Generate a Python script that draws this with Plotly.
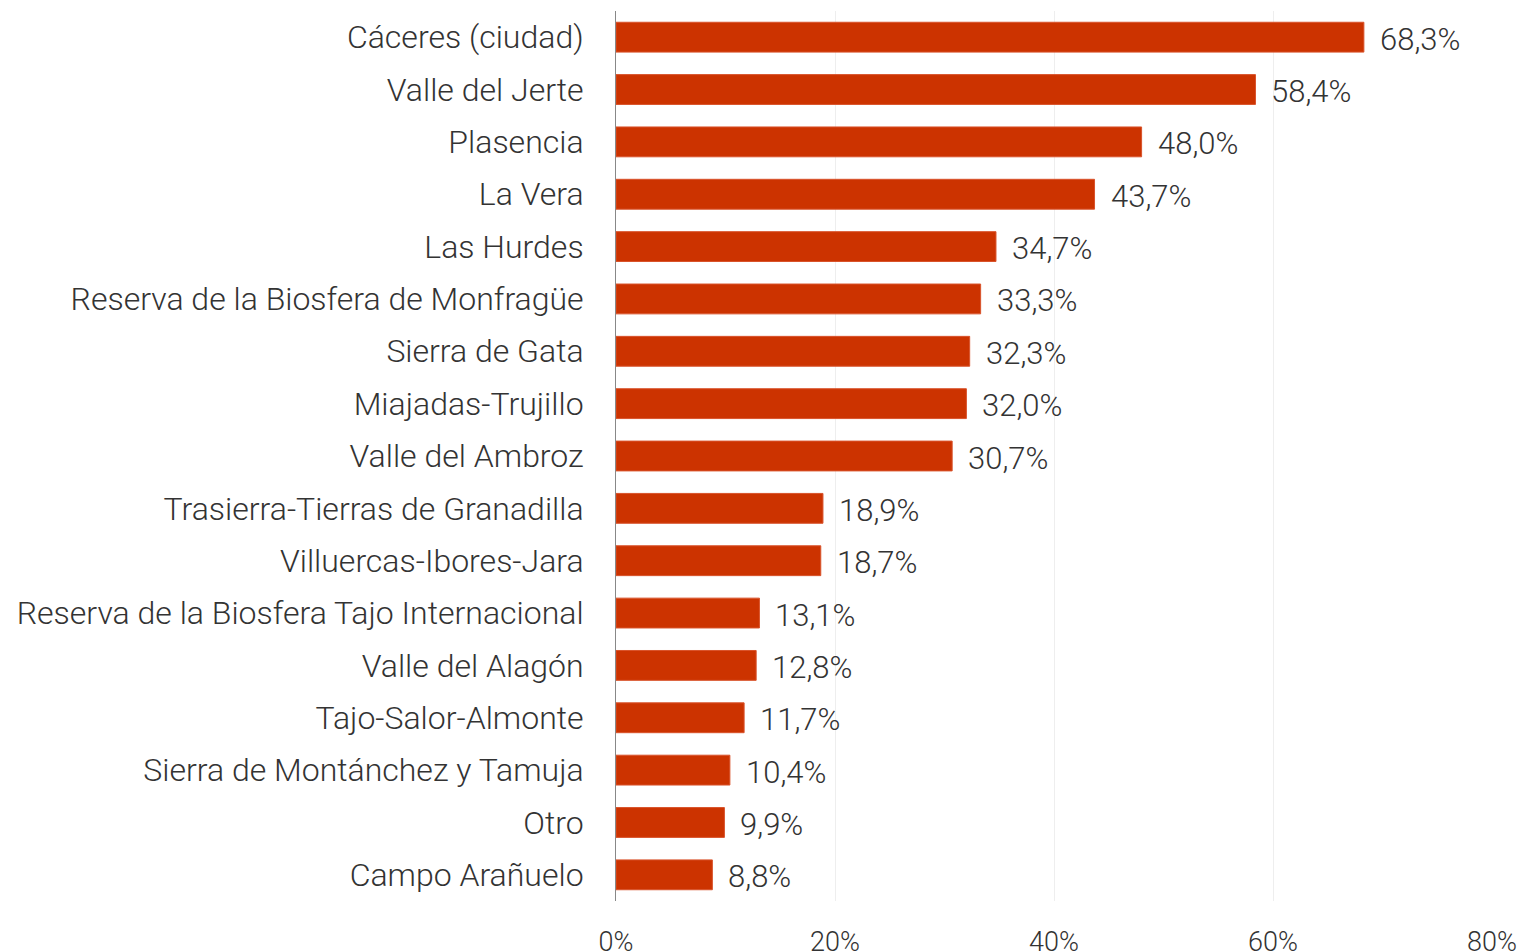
import plotly.graph_objects as go

categories = [
    "Cáceres (ciudad)", "Valle del Jerte", "Plasencia", "La Vera", "Las Hurdes",
    "Reserva de la Biosfera de Monfragüe", "Sierra de Gata", "Miajadas-Trujillo",
    "Valle del Ambroz", "Trasierra-Tierras de Granadilla", "Villuercas-Ibores-Jara",
    "Reserva de la Biosfera Tajo Internacional", "Valle del Alagón",
    "Tajo-Salor-Almonte", "Sierra de Montánchez y Tamuja", "Otro", "Campo Arañuelo",
]
values = [68.3, 58.4, 48.0, 43.7, 34.7, 33.3, 32.3, 32.0, 30.7, 18.9, 18.7,
          13.1, 12.8, 11.7, 10.4, 9.9, 8.8]
x_ticks = [0, 20, 40, 60, 80]
x_tick_labels = ["0%", "20%", "40%", "60%", "80%"]

labels = [f"{v:.1f}".replace(".", ",") + "%" for v in values]

FAM = "Roboto Light, Roboto"
FONT = dict(family=FAM, color="#333333", size=30, weight=300)

fig = go.Figure()
fig.add_trace(go.Bar(
    x=values, y=categories, orientation="h",
    marker=dict(color="#CC3300", line=dict(color="#D9532B", width=1)),
    hoverinfo="skip",
))
for c, v, t in zip(categories, values, labels):
    fig.add_annotation(x=v, y=c, text=t, showarrow=False, xanchor="left",
                       yanchor="middle", xshift=14, yshift=-2,
                       font=dict(family=FAM, color="#333333", size=31, weight=300))

fig.update_layout(
    width=1521, height=952,
    margin=dict(l=616, r=29, t=11, b=51, autoexpand=False),
    plot_bgcolor="white", paper_bgcolor="white",
    bargap=0.43, showlegend=False,
    font=FONT,
)
fig.update_xaxes(
    range=[0, 80], tickvals=x_ticks, ticktext=x_tick_labels,
    showgrid=True, gridcolor="#EEEEEE", gridwidth=1,
    zeroline=False, showline=False,
    tickfont=dict(family=FAM, color="#333333", size=27, weight=300),
    ticklabelstandoff=22,
)
fig.update_yaxes(
    categoryorder="array", categoryarray=categories[::-1],
    showgrid=False, showline=True, linecolor="#888888", linewidth=1,
    ticks="", ticklabelstandoff=25,
    tickfont=dict(family=FAM, color="#333333", size=32, weight=300),
)
fig.write_html("out.html", config={"displayModeBar": False},
               post_script="document.body.style.margin='0';document.body.style.overflow='hidden';")
